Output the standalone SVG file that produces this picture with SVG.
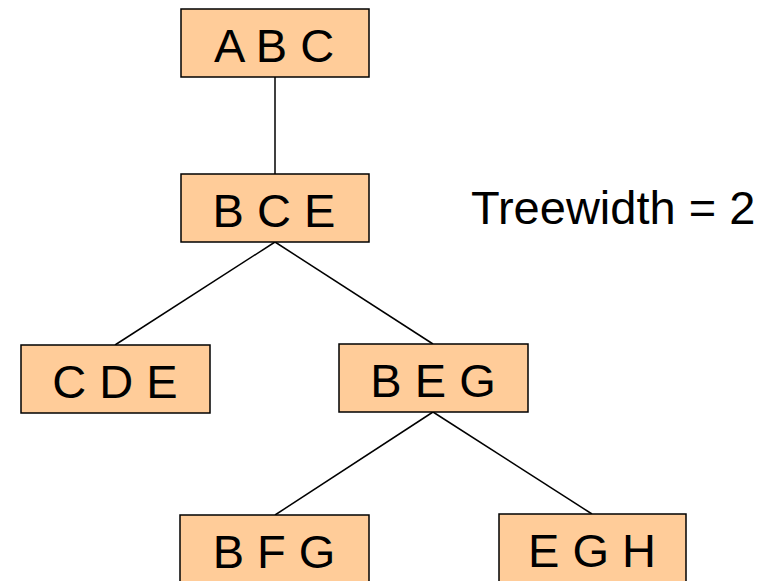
<svg xmlns="http://www.w3.org/2000/svg" width="778" height="581" viewBox="0 0 778 581">
<style>
.box{fill:#FFCC99;stroke:#000;stroke-width:1.5}
.lbl{font-family:"Liberation Sans",Arial,sans-serif;font-size:47px;fill:#000;text-anchor:middle}
.edge{stroke:#000;stroke-width:1.5;fill:none}
</style>
<rect width="778" height="581" fill="#fff"/>
<g id="connectors">
<line class="edge" x1="275" y1="77" x2="275" y2="174"/>
<line class="edge" x1="275" y1="242" x2="115" y2="345"/>
<line class="edge" x1="275" y1="242" x2="433" y2="344"/>
<line class="edge" x1="433" y1="412" x2="275" y2="515"/>
<line class="edge" x1="433" y1="412" x2="592" y2="514"/>
</g>
<g id="abc"><rect class="box" x="181" y="9" width="188" height="68"/><text class="lbl" x="274" y="62">A B C</text></g>
<g id="bce"><rect class="box" x="181" y="174" width="188" height="68"/><text class="lbl" x="274" y="227">B C E</text></g>
<g id="cde"><rect class="box" x="21" y="345" width="189" height="68"/><text class="lbl" x="115" y="398">C D E</text></g>
<g id="beg"><rect class="box" x="339" y="344" width="189" height="68"/><text class="lbl" x="433" y="397">B E G</text></g>
<g id="bfg"><rect class="box" x="180" y="515" width="189" height="68"/><text class="lbl" x="274" y="568">B F G</text></g>
<g id="egh"><rect class="box" x="499" y="514" width="187" height="68"/><text class="lbl" x="592" y="567">E G H</text></g>
<g id="treewidth"><text x="471" y="224" font-family="'Liberation Sans',Arial,sans-serif" font-size="47">Treewidth = 2</text></g>
</svg>
